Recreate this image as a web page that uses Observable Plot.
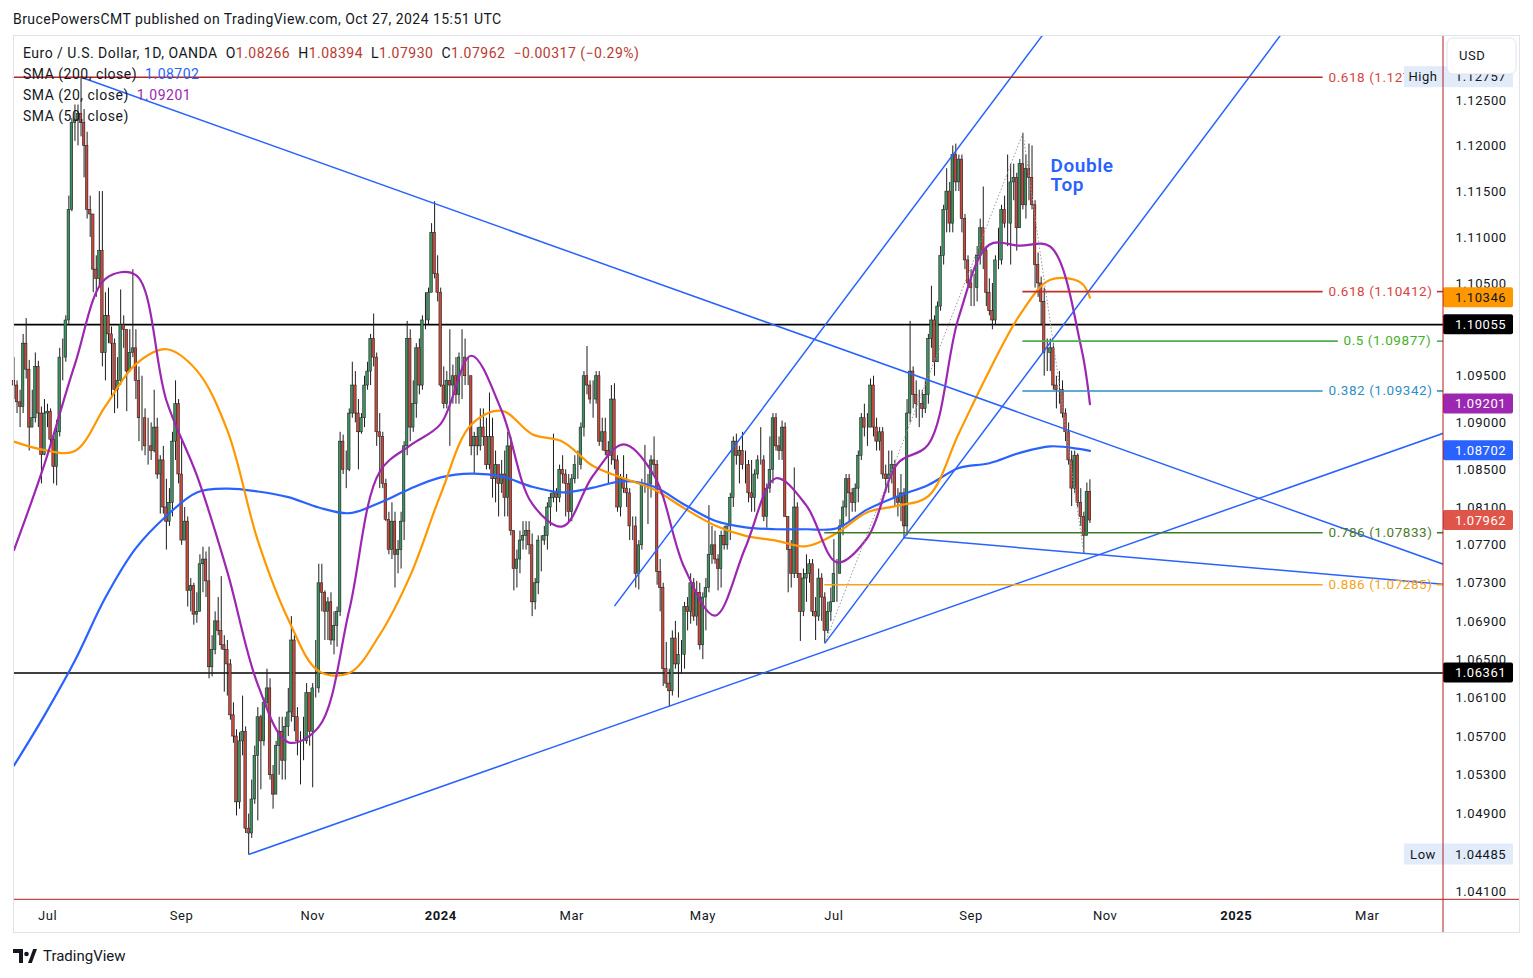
<!DOCTYPE html>
<html>
<head>
<meta charset="utf-8">
<script src="https://cdn.jsdelivr.net/npm/d3@7"></script>
<script src="https://cdn.jsdelivr.net/npm/@observablehq/plot@0.6"></script>
<style>
  html, body { margin: 0; padding: 0; background: #fff; overflow: hidden; }
  #wrap { position: relative; width: 1533px; height: 978px; overflow: hidden; font-family: Roboto, "Noto Sans", sans-serif; color: #131722; }
  #wrap > svg.chart { position: absolute; left: 0; top: 0; }
  #wrap > svg.chart text { letter-spacing: 0.55px; }
  .hdr { position: absolute; left: 13px; top: 10px; font-size: 14px; line-height: 18px; color: #131722; white-space: nowrap; letter-spacing: 0.45px; }
  .leg { position: absolute; left: 23px; top: 42.5px; font-size: 14px; line-height: 21px; white-space: nowrap; color: #131722; letter-spacing: 0.5px; }
  .leg .r { color: #b83a32; }
  .leg .b { color: #2962ff; }
  .leg .p { color: #9c27b0; }
  .frame { position: absolute; left: 13px; top: 35px; width: 1507px; height: 898px; border: 1px solid #e0e3eb; box-sizing: border-box; pointer-events: none; }
  .logo { position: absolute; left: 13px; top: 947px; display: flex; align-items: center; gap: 6px; font-size: 15px; color: #131722; }
  .logo svg { display: block; }
</style>
</head>
<body>
<div id="wrap"></div>
<script>
// ---------------- DATA (EUR/USD daily, OANDA; prices in pips above 1.0000) ----------------
const firstOpen = 945; // close of the bar before the first visible one
// closes, one row per month: Jun-2023 (from Jun 16) ... Oct-2024 (to Oct 25)
const closes = [
  940,922,917,985,957,895,905,960,910,866,910,
  912,882,853,890,970,970,1010,1130,1225,1228,1235,1225,1200,1130,1125,1065,1055,1085,975,1015,995,
  985,935,945,1005,1000,955,975,980,945,905,905,875,875,870,895,845,860,810,795,815,880,920,845,
  775,795,722,727,697,700,750,755,732,642,660,690,680,665,660,645,592,570,502,565,575,
  475,470,505,550,590,565,605,620,530,510,560,575,545,580,595,670,590,565,565,565,615,575,
  620,620,730,720,700,710,670,685,700,880,850,850,910,940,910,890,905,940,955,990,970,890,
  885,835,797,765,795,760,765,795,875,990,895,920,980,940,1010,1010,1040,1105,1060,1040,
  940,920,945,940,950,930,970,970,950,950,875,885,875,895,885,855,885,840,855,835,845,820,
  875,785,745,755,775,780,785,770,710,730,775,775,780,810,820,825,820,850,845,835,805,
  840,855,855,895,950,940,925,925,950,880,890,870,865,925,860,810,840,830,825,790,790,
  740,770,835,835,835,860,855,742,725,640,625,617,672,645,655,655,705,700,730,695,720,665,
  715,725,760,770,755,745,780,770,790,820,880,865,870,855,855,825,820,845,860,860,800,830,850,
  905,875,870,895,800,765,740,810,740,700,735,740,750,700,695,735,715,680,700,710,
  740,740,790,810,840,825,815,830,865,905,895,895,940,895,880,890,845,840,845,855,820,815,825,
  790,910,955,930,920,920,915,930,990,1010,965,1025,1080,1130,1150,1115,1190,1160,1185,1120,1075,1050,
  1045,1045,1080,1110,1085,1040,1020,1010,1075,1075,1130,1115,1115,1160,1165,1110,1180,1135,1175,1165,1135,
  1070,1050,1030,975,975,980,940,935,935,910,890,860,830,865,815,800,780,826.6,796.2
];
const highs = [
  970,945,935,995,1012,967,935,975,966,917,925,
  920,915,885,903,980,990,1015,1145,1230,1245,1245,1276,1240,1215,1145,1125,1080,1150,1150,1040,1045,
  1003,990,970,1043,1015,1000,1000,1065,1000,960,950,915,905,900,935,905,865,875,840,830,890,945,925,
  882,810,800,735,730,720,760,768,763,768,675,700,715,737,675,670,650,605,577,574,612,
  580,490,525,560,600,592,610,640,630,540,565,590,590,590,620,695,675,600,575,590,625,615,
  625,670,750,750,722,715,720,700,705,890,887,870,915,965,955,925,910,950,965,995,1017,975,
  910,890,840,805,815,805,775,805,880,1009,1000,945,985,990,1015,1040,1045,1115,1139,1080,
  1045,960,955,1000,962,970,975,1000,990,970,950,890,895,915,915,905,932,905,870,855,860,870,
  890,885,785,765,785,795,795,795,782,735,780,780,790,815,825,888,830,855,865,850,845,
  845,865,870,900,955,982,945,945,955,955,905,905,880,940,942,865,845,865,845,830,800,
  800,775,840,876,845,865,885,860,755,730,668,640,680,690,678,670,710,715,740,735,732,730,
  720,735,812,790,785,760,785,790,790,825,885,888,875,890,870,860,860,850,865,895,865,835,885,
  910,910,885,902,900,800,775,852,815,740,745,760,755,755,715,745,740,720,710,725,
  776,755,797,817,845,845,830,835,870,910,920,910,947,950,905,895,895,855,870,870,860,830,845,
  830,925,1009,960,945,935,935,945,995,1047,1015,1030,1090,1135,1175,1160,1200,1202,1190,1190,1125,1080,
  1065,1060,1090,1120,1155,1090,1055,1050,1080,1110,1135,1145,1190,1180,1180,1170,1185,1214,1190,1202,1200,
  1140,1083,1057,1045,990,990,985,950,955,945,915,900,870,870,867,830,805,836,839.4
];
const lows = [
  925,910,895,910,947,870,895,900,895,835,865,
  895,875,835,833,885,945,965,1005,1128,1205,1200,1210,1165,1120,1100,1040,1035,1045,960,945,985,
  927,910,915,940,980,912,955,970,925,880,870,865,855,860,868,840,803,803,765,790,800,860,835,
  770,775,705,700,686,688,700,720,715,630,632,655,675,660,616,612,587,563,488,495,550,
  470,448,465,500,483,515,560,600,525,495,510,530,525,525,570,585,575,550,520,545,562,560,
  517,610,615,700,670,670,665,655,663,695,845,830,848,905,900,850,888,895,935,940,960,875,
  830,830,795,760,755,725,740,745,775,865,880,890,905,930,935,1000,1005,1040,1055,1030,
  938,915,915,875,920,920,920,925,940,940,865,845,865,870,875,850,850,820,815,800,825,800,
  800,780,722,725,740,765,765,760,695,702,718,742,770,765,790,815,805,815,835,800,795,
  795,835,840,850,885,930,920,905,920,875,870,865,835,855,850,805,800,825,810,775,775,
  725,723,765,825,792,820,845,728,700,622,620,601,612,640,610,635,640,680,687,690,685,660,
  650,680,720,750,750,722,725,765,765,775,810,855,835,850,835,815,805,805,840,855,795,788,825,
  835,870,860,860,800,720,725,735,735,669,695,710,730,695,670,690,690,667,677,690,
  710,710,740,780,800,795,805,805,815,860,885,875,895,885,870,870,840,825,825,835,810,800,795,
  777,780,900,915,905,895,905,910,920,980,950,965,1020,1070,1105,1105,1105,1150,1150,1105,1065,1045,
  1025,1025,1030,1070,1065,1025,1015,1000,1005,1065,1070,1110,1090,1070,1140,1085,1110,1130,1120,1140,1130,
  1045,1035,1005,950,955,955,935,915,920,905,880,855,811,825,810,790,761,780,793
];

// Moving averages, every 10th bar plus the last bar
const smaBars = [0,10,20,30,40,50,60,70,80,90,100,110,120,130,140,150,160,170,180,190,200,210,220,230,240,250,260,270,280,290,300,310,320,330,340,350,353];
const sma20  = [1.0765,1.0856,1.0963,1.1055,1.1059,1.0924,1.0844,1.0742,1.0624,1.0564,1.0580,1.0702,1.0848,1.0876,1.0899,1.0972,1.0913,1.0814,1.0790,1.0844,1.0877,1.0844,1.0746,1.0696,1.0768,1.0841,1.0812,1.0752,1.0778,1.0857,1.0877,1.1014,1.1092,1.1091,1.1090,1.0983,1.09201];
const sma50  = [1.0880,1.0871,1.0870,1.0918,1.0963,1.0979,1.0956,1.0892,1.0775,1.0692,1.0638,1.0636,1.0676,1.0738,1.0824,1.0898,1.0913,1.0888,1.0880,1.0854,1.0841,1.0829,1.0809,1.0791,1.0780,1.0775,1.0769,1.0783,1.0805,1.0812,1.0822,1.0889,1.0956,1.1016,1.1054,1.1051,1.10346];
const sma200 = [1.0540,1.0592,1.0649,1.0715,1.0767,1.0801,1.0826,1.0830,1.0827,1.0821,1.0810,1.0804,1.0815,1.0830,1.0842,1.0846,1.0843,1.0832,1.0826,1.0831,1.0838,1.0832,1.0813,1.0796,1.0789,1.0787,1.0787,1.0788,1.0808,1.0822,1.0834,1.0852,1.0857,1.0868,1.0875,1.0872,1.08702];

// Drawn trend lines: [bar1, price1, bar2, price2]
const trendLines = [
  [22, 1.12757, 469, 1.0750],
  [77, 1.04485, 469, 1.0889],
  [197, 1.0706, 337.4, 1.1322],
  [266, 1.0667, 415.5, 1.1322],
  [292, 1.0778, 469, 1.0729]
];
const dottedLines = [
  [266, 1.0667, 331, 1.1214],
  [331, 1.1214, 351, 1.0761]
];
// Horizontal levels
const blackLevels = [1.10055, 1.06361];
const fibLabels = ["0.618 (1.12757)", "0.618 (1.10412)", "0.5 (1.09877)", "0.382 (1.09342)", "0.786 (1.07833)", "0.886 (1.07285)"];
const fibPrices = [1.12757, 1.10412, 1.09877, 1.09342, 1.07833, 1.07285];
const fibFrom   = [-0.2, 331, 331, 331, 266, 266];
const fibTo     = [429.5, 429.5, 434.5, 429.5, 429.5, 429.5];
const fibTextAt = [431.3, 431.3, 436.2, 431.3, 431.3, 431.3];
const fibLine   = ["#b22828", "#c0302a", "#4caf50", "#2f8ec4", "#3f7a26", "#f7a21b"];
const fibText   = ["#d64541", "#d64541", "#43b02a", "#2f8ec4", "#4b7a2c", "#f7a21b"];
const annotation = {text: "Double\nTop", bar: 340.1, price: 1.1168};

// Axes (labels visible on the price scale)
const yTicks = [1.125,1.12,1.115,1.11,1.105,1.095,1.09,1.085,1.081,1.077,1.073,1.069,1.065,1.061,1.057,1.053,1.049,1.041];
const xTickDates  = ["2023-07-03","2023-09-01","2023-11-01","2024-01-02","2024-03-01","2024-05-01","2024-07-01","2024-09-02","2024-11-01","2025-01-01","2025-03-03"];
const xTickLabels = ["Jul","Sep","Nov","2024","Mar","May","Jul","Sep","Nov","2025","Mar"];

// Price tags on the price scale
const tagPrices = [1.10346, 1.10055, 1.09201, 1.08702, 1.07962, 1.06361];
const tagFill   = ["#ff9800", "#000000", "#9c27b0", "#2962ff", "#e0554a", "#000000"];
const tagInk    = ["#131722", "#ffffff", "#ffffff", "#ffffff", "#ffffff", "#ffffff"];
const extremes  = [{name: "High", price: 1.12757}, {name: "Low", price: 1.04485}];

// ---------------- BUILD ----------------
const pip = v => 1 + v / 10000;
const skipDays = ["2023-12-25", "2024-01-01"];
const barDates = [];
for (let t = Date.UTC(2023, 5, 16); barDates.length < 520; t += 86400000) {
  const d = new Date(t), wd = d.getUTCDay();
  if (wd === 0 || wd === 6) continue;
  const s = d.toISOString().slice(0, 10);
  if (skipDays.includes(s)) continue;
  barDates.push(s);
}
const candles = closes.map((c, i) => ({
  i,
  open: pip(i ? closes[i - 1] : firstOpen),
  close: pip(c),
  high: pip(highs[i]),
  low: pip(lows[i])
}));
const up = "#3e9060", down = "#c9483d", edge = "#1d1d1d";
const smaRows = (vals) => vals.map((v, k) => ({bar: smaBars[k], v}));
const segs = (arr) => arr.map(([a, b, c, d]) => ({x1: a, y1: b, x2: c, y2: d}));
const fibs = fibPrices.map((p, k) => ({p, label: fibLabels[k], from: fibFrom[k], to: fibTo[k], tx: fibTextAt[k], line: fibLine[k], ink: fibText[k]}));
const xTicks = xTickDates.map((d, k) => ({i: barDates.indexOf(d), label: xTickLabels[k], year: /^\d{4}$/.test(xTickLabels[k])}));

const W = 1533, H = 978;
const chart = Plot.plot({
  width: W, height: H,
  marginLeft: 13, marginRight: 90, marginTop: 35, marginBottom: 78.7,
  style: {fontFamily: "Roboto, 'Noto Sans', sans-serif", background: "white", color: "#131722"},
  x: {type: "linear", domain: [-0.16, 469], axis: null},
  y: {type: "log", domain: [1.04022, 1.13219], axis: null},
  marks: [
    Plot.ruleY(blackLevels, {stroke: "#000", strokeWidth: 1.6}),
    Plot.ruleX(candles, {x: "i", y1: "low", y2: "high", stroke: edge, strokeWidth: 1}),
    Plot.rect(candles, {x1: d => d.i - 0.42, x2: d => d.i + 0.42, y1: "open", y2: "close",
      fill: d => d.close >= d.open ? up : down, stroke: edge, strokeWidth: 0.55}),
    Plot.line(smaRows(sma200), {x: "bar", y: "v", stroke: "#2962ff", strokeWidth: 2.2, curve: "catmull-rom"}),
    Plot.line(smaRows(sma50), {x: "bar", y: "v", stroke: "#ff9800", strokeWidth: 2.2, curve: "catmull-rom"}),
    Plot.line(smaRows(sma20), {x: "bar", y: "v", stroke: "#9c27b0", strokeWidth: 2.2, curve: "catmull-rom"}),
    Plot.link(segs(dottedLines), {x1: "x1", y1: "y1", x2: "x2", y2: "y2", stroke: "#9a9a9a", strokeWidth: 1, strokeDasharray: "1.5,2"}),
    Plot.link(segs(trendLines), {x1: "x1", y1: "y1", x2: "x2", y2: "y2", stroke: "#2962ff", strokeWidth: 1.5, clip: true}),
    Plot.ruleY(fibs, {y: "p", x1: "from", x2: "to", stroke: "line", strokeWidth: 1.6}),
    Plot.ruleY(fibs, {y: "p", x1: 467, x2: 469, stroke: "line", strokeWidth: 1.6}),
    Plot.text(fibs, {y: "p", x: "tx", text: "label", fill: "ink", textAnchor: "start", fontSize: 13.5}),
    Plot.text([annotation], {x: "bar", y: "price", text: "text", fill: "#2962ff", fontSize: 19, fontWeight: 600, textAnchor: "start", lineHeight: 1.05}),
    Plot.text(yTicks, {y: d => d, text: d => d.toFixed(5), frameAnchor: "right", dx: 12, textAnchor: "start", fontSize: 13, fill: "#131722"}),
    Plot.text(xTicks.filter(d => !d.year), {x: "i", text: "label", frameAnchor: "bottom", lineAnchor: "middle", dy: 16.5, fontSize: 13, fill: "#131722"}),
    Plot.text(xTicks.filter(d => d.year), {x: "i", text: "label", frameAnchor: "bottom", lineAnchor: "middle", dy: 16.5, fontSize: 13, fontWeight: "bold", fill: "#131722"})
  ]
});

const wrap = document.getElementById("wrap");
chart.classList.add("chart");
wrap.appendChild(chart);

// price-scale decorations, positioned with the chart's own scales
const svg = d3.select(chart);
const ys = chart.scale("y"), xs = chart.scale("x");
const plotRight = xs.apply(469), plotLeft = xs.apply(-0.16);
const plotBottom = ys.apply(1.04022), plotTop = ys.apply(1.13219);
const frameRight = 1520, frameBottom = 933;
const deco = svg.append("g").attr("font-family", "Roboto, 'Noto Sans', sans-serif").attr("font-size", 13).attr("text-anchor", "start");

tagPrices.forEach((p, k) => {
  const cy = ys.apply(p);
  deco.append("rect").attr("x", plotRight).attr("y", cy - 10).attr("width", 70).attr("height", 20).attr("rx", 2).attr("fill", tagFill[k]);
  deco.append("text").attr("x", plotRight + 12).attr("y", cy).attr("dy", "0.35em").attr("text-anchor", "start").attr("fill", tagInk[k]).text(p.toFixed(5));
});
extremes.forEach(e => {
  const cy = ys.apply(e.price);
  deco.append("rect").attr("x", plotRight - 39).attr("y", cy - 10.5).attr("width", 109).attr("height", 21).attr("fill", "#e1ebfa");
  deco.append("text").attr("x", plotRight - 20).attr("y", cy).attr("dy", "0.35em").attr("text-anchor", "middle").attr("fill", "#131722").text(e.name);
  deco.append("text").attr("x", plotRight + 12).attr("y", cy).attr("dy", "0.35em").attr("text-anchor", "start").attr("fill", "#131722").text(e.price.toFixed(5));
});
// separators of the price and time scales
deco.append("line").attr("x1", plotRight).attr("x2", plotRight).attr("y1", plotTop).attr("y2", frameBottom).attr("stroke", "#b71c1c").attr("stroke-width", 1);
deco.append("line").attr("x1", plotLeft).attr("x2", frameRight).attr("y1", plotBottom).attr("y2", plotBottom).attr("stroke", "#b71c1c").attr("stroke-width", 1);
// currency button (covers the top of the High price label, as in the app)
deco.append("rect").attr("x", plotRight + 4).attr("y", plotTop + 3).attr("width", 69).attr("height", 36).attr("rx", 6).attr("fill", "#fff").attr("stroke", "#e0e3eb");
deco.append("text").attr("x", plotRight + 16).attr("y", plotTop + 20).attr("dy", "0.35em").attr("text-anchor", "start").attr("fill", "#131722").text("USD");

// text overlays
const hdr = document.createElement("div");
hdr.className = "hdr";
hdr.textContent = "BrucePowersCMT published on TradingView.com, Oct 27, 2024 15:51 UTC";
wrap.appendChild(hdr);

const leg = document.createElement("div");
leg.className = "leg";
leg.innerHTML =
  'Euro / U.S. Dollar, 1D, OANDA&nbsp; O<span class="r">1.08266</span>&nbsp; H<span class="r">1.08394</span>&nbsp; L<span class="r">1.07930</span>&nbsp; C<span class="r">1.07962</span>&nbsp; <span class="r">\u22120.00317 (\u22120.29%)</span><br>' +
  'SMA (200, close)&nbsp; <span class="b">1.08702</span><br>' +
  'SMA (20, close)&nbsp; <span class="p">1.09201</span><br>' +
  'SMA (50, close)';
wrap.appendChild(leg);

const fr = document.createElement("div");
fr.className = "frame";
wrap.appendChild(fr);

const logo = document.createElement("div");
logo.className = "logo";
logo.innerHTML = '<svg width="24" height="14" viewBox="0 0 24 14"><path d="M0 0h10v14H6V4H0z" fill="#131722"/><circle cx="13.5" cy="5" r="2.3" fill="#131722"/><path d="M15 14l5.2-14H24l-5.2 14z" fill="#131722"/></svg><span>TradingView</span>';
wrap.appendChild(logo);
</script>
</body>
</html>
